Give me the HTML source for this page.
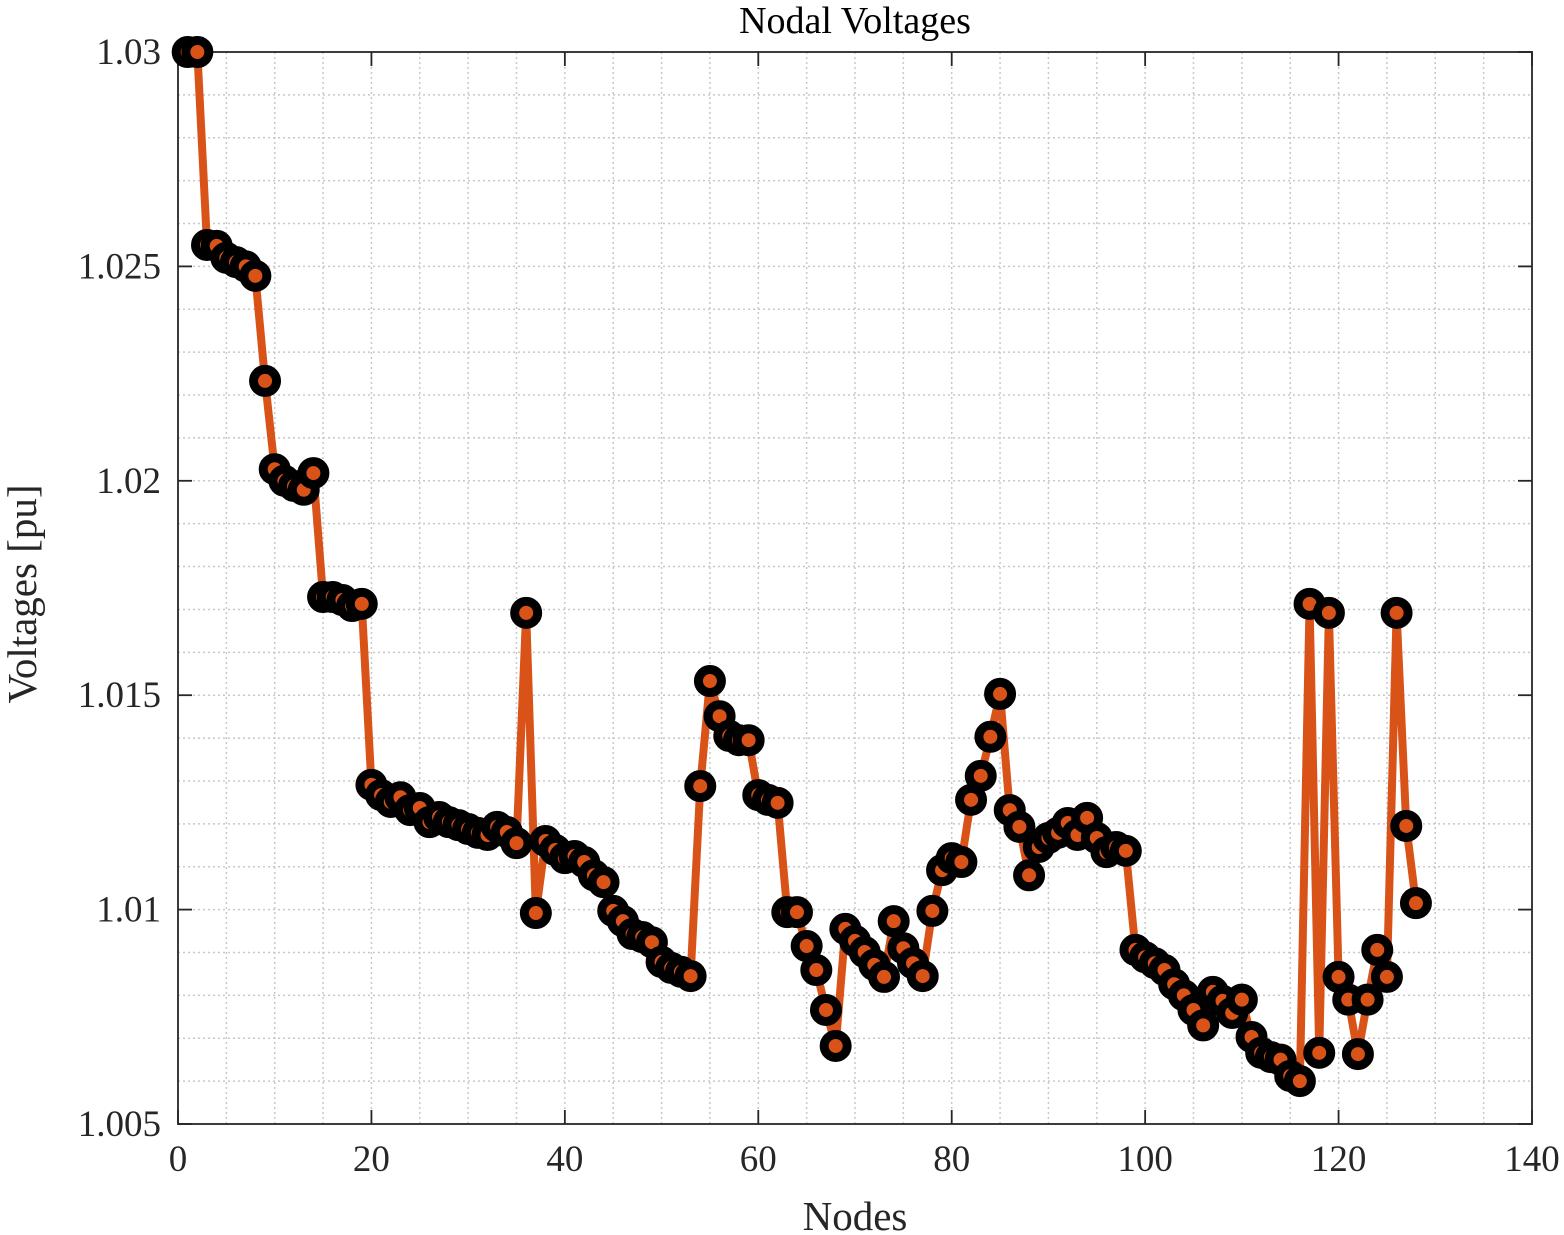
<!DOCTYPE html>
<html><head><meta charset="utf-8"><style>
html,body{margin:0;padding:0;background:#fff;}
svg{display:block;font-family:"Liberation Serif",serif;}
</style></head><body>
<svg id="chart" width="1564" height="1235"></svg>
<script>
const voltages=[1.03,1.03,1.0255,1.02548,1.0252,1.0251,1.0250,1.02478,1.02233,1.02027,1.0200,1.01988,1.01979,1.02018,1.01729,1.01729,1.01722,1.01708,1.01713,1.01291,1.01267,1.01251,1.01262,1.01232,1.01237,1.01204,1.01216,1.01204,1.01197,1.01188,1.01179,1.01174,1.01193,1.01181,1.01155,1.01692,1.00992,1.0116,1.01139,1.0112,1.01125,1.01111,1.0108,1.01064,1.00997,1.00973,1.00943,1.00936,1.00924,1.00878,1.00864,1.00855,1.00845,1.01288,1.01533,1.01451,1.01405,1.01395,1.01395,1.01267,1.01256,1.01249,1.00994,1.00994,1.00915,1.00859,1.00766,1.00682,1.00955,1.00927,1.00901,1.00871,1.00843,1.00973,1.0091,1.00875,1.00845,1.00997,1.01092,1.0112,1.01111,1.01256,1.01312,1.01403,1.01503,1.01232,1.01193,1.0108,1.01146,1.01167,1.01179,1.01202,1.01174,1.01214,1.01167,1.01134,1.01146,1.01137,1.00906,1.00889,1.00875,1.00859,1.00826,1.008,1.00766,1.0073,1.00808,1.00787,1.00759,1.0079,1.00703,1.00666,1.00656,1.0065,1.00612,1.006,1.01713,1.00666,1.01692,1.00843,1.0079,1.00663,1.0079,1.00906,1.00843,1.01692,1.01195,1.01015];
const xTicks=[0,20,40,60,80,100,120,140];
const yTicks=[1.005,1.01,1.015,1.02,1.025,1.03];
const yTickLabels=["1.005","1.01","1.015","1.02","1.025","1.03"];
const L=178,R=1532,T=52,B=1124,xMin=0,xMax=140,yMin=1.005,yMax=1.03;
const sx=v=>L+(v-xMin)/(xMax-xMin)*(R-L);
const sy=v=>B-(v-yMin)/(yMax-yMin)*(B-T);
const svg=document.getElementById('chart');
const NS='http://www.w3.org/2000/svg';
function mk(tag,attrs,parent){const e=document.createElementNS(NS,tag);for(const k in attrs)e.setAttribute(k,attrs[k]);(parent||svg).appendChild(e);return e;}
const grid=mk('g',{});


for(let x=5;x<140;x+=5){mk('line',{x1:sx(x),x2:sx(x),y1:T,y2:B,stroke:'#c8c8c8','stroke-width':1.5,'stroke-dasharray':'2,3'},grid);}
for(let i=1;i<25;i++){const y=sy(1.005+i*0.001);mk('line',{x1:L,x2:R,y1:y,y2:y,stroke:'#c8c8c8','stroke-width':1.5,'stroke-dasharray':'2,3'},grid);}
const box=mk('rect',{x:L,y:T,width:R-L,height:B-T,fill:'none',stroke:'#262626','stroke-width':1.8});


const xa=mk('g',{});


xTicks.forEach(v=>{const x=sx(v);mk('line',{x1:x,x2:x,y1:B,y2:B-14,stroke:'#262626','stroke-width':1.8},xa);mk('line',{x1:x,x2:x,y1:T,y2:T+14,stroke:'#262626','stroke-width':1.8},xa);const t=mk('text',{x:x,y:B+47,'text-anchor':'middle','font-size':37,fill:'#262626'},xa);t.textContent=v;});
const ya=mk('g',{});


yTicks.forEach((v,i)=>{const y=sy(v);mk('line',{x1:L,x2:L+14,y1:y,y2:y,stroke:'#262626','stroke-width':1.8},ya);mk('line',{x1:R,x2:R-14,y1:y,y2:y,stroke:'#262626','stroke-width':1.8},ya);const t=mk('text',{x:L-17,y:y+12,'text-anchor':'end','font-size':37,fill:'#262626'},ya);t.textContent=yTickLabels[i];});
const pts=voltages.map((v,i)=>sx(i+1)+','+sy(v)).join(' ');
const line=mk('polyline',{points:pts,fill:'none',stroke:'#D95319','stroke-width':8,'stroke-linejoin':'round'});


const mg=mk('g',{});


voltages.forEach((v,i)=>{const c=mk('circle',{cx:sx(i+1),cy:sy(v),r:11.5,fill:'#D95319',stroke:'#000','stroke-width':9},mg);});
const title=mk('text',{x:(L+R)/2,y:33,'text-anchor':'middle','font-size':38,fill:'#000'});
title.textContent='Nodal Voltages';


const xl=mk('text',{x:(L+R)/2,y:1230,'text-anchor':'middle','font-size':41,fill:'#262626'});
xl.textContent='Nodes';


const yl=mk('text',{x:0,y:0,'text-anchor':'middle','font-size':41,fill:'#262626',transform:'translate(36,'+((T+B)/2+6)+') rotate(-90)'});
yl.textContent='Voltages [pu]';


</script>
</body></html>
